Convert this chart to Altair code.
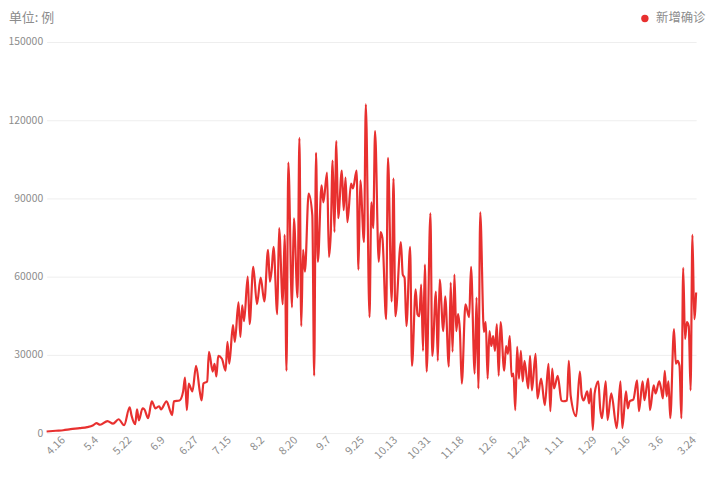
import json
import altair as alt
import pandas as pd

# ---- data ----
start_date = "2020-04-07"          # day 0 of the series
series_name = "新增确诊"
unit_title = "单位: 例"

day_offsets = [
    0, 5, 9, 13, 18, 22, 25, 27, 29, 33,
    36, 39, 42, 45, 46, 48, 49, 50, 52, 53,
    55, 57, 59, 61, 62, 65, 67, 68, 69, 72,
    74, 75, 76, 77, 79, 81, 83, 84, 85, 87,
    88, 90, 91, 92, 93, 95, 97, 98, 99, 101,
    102, 104, 105, 106, 107, 109, 110, 112, 114, 116,
    118, 120, 121, 122, 123, 125, 126, 128, 129, 130,
    131, 133, 134, 136, 137, 138, 139, 140, 142, 144,
    145, 146, 147, 149, 150, 152, 153, 154, 155, 156,
    157, 158, 160, 161, 162, 163, 165, 166, 168, 169,
    170, 172, 173, 175, 176, 177, 178, 180, 181, 182,
    184, 185, 187, 188, 189, 192, 193, 194, 195, 197,
    198, 200, 201, 202, 203, 204, 205, 206, 208, 209,
    211, 212, 213, 215, 216, 218, 219, 220, 221, 222,
    223, 224, 225, 227, 229, 230, 232, 233, 234, 235,
    237, 238, 239, 240, 241, 242, 243, 244, 245, 246,
    248, 249, 250, 251, 252, 253, 254, 255, 256, 257,
    258, 259, 261, 262, 263, 265, 266, 268, 270, 272,
    273, 274, 275, 277, 279, 280, 282, 283, 284, 287,
    289, 290, 291, 293, 294, 295, 296, 297, 299, 300,
    301, 303, 304, 306, 309, 311, 312, 314, 315, 316,
    318, 320, 321, 323, 324, 326, 327, 329, 330, 332,
    333, 334, 335, 336, 337, 338, 340, 341, 342, 343,
    344, 345, 346, 347, 348, 349, 350, 351, 352,
]

new_cases = [
    600, 900, 1100, 1500, 1900, 2300, 2900, 3800, 3200, 4600,
    3600, 5300, 3000, 9900, 6800, 3400, 9100, 4900, 9500, 9100,
    5700, 12200, 9500, 10300, 9100, 12200, 8400, 6900, 12200, 12500,
    16000, 21300, 8800, 19000, 16000, 25800, 16000, 12500, 19000, 19800,
    31200, 23600, 26600, 21700, 29600, 28500, 23900, 35000, 26600, 41400,
    35000, 50100, 36900, 49000, 42900, 60000, 41800, 63800, 49400, 59600,
    50500, 70300, 58100, 62700, 71400, 45600, 78600, 49400, 76000, 23900,
    103700, 48200, 82400, 52000, 113200, 41000, 70300, 61900, 91900, 83600,
    22000, 107500, 65700, 95000, 88500, 99900, 67600, 76700, 104500, 77100,
    112000, 82400, 100700, 85500, 98000, 80900, 95700, 93800, 100700, 62700,
    96900, 73300, 126100, 44500, 88500, 78600, 115800, 65700, 77100, 74800,
    43700, 105600, 50500, 97600, 44800, 73300, 60800, 59600, 41000, 71400,
    25800, 55100, 45600, 44800, 57000, 31500, 64600, 23600, 84300, 29600,
    54300, 27700, 58900, 39100, 52400, 25500, 57700, 31200, 60800, 39100,
    45600, 38800, 19000, 49400, 44500, 63800, 22800, 52000, 17100, 84700,
    38800, 42600, 20900, 39100, 33400, 37200, 31500, 41800, 22000, 42600,
    23900, 33400, 30400, 37200, 21700, 22800, 8800, 33100, 20900, 31500,
    19800, 27700, 17100, 29600, 16400, 30400, 13300, 20900, 10700, 26600,
    8400, 24700, 17100, 22000, 12500, 12200, 12500, 27700, 14500, 6500,
    23600, 14500, 12500, 16000, 11400, 17100, 1200, 15200, 19800, 9500,
    5700, 19800, 5000, 15200, 1900, 19800, 1900, 16000, 9500, 12200,
    12900, 20200, 8400, 19800, 12600, 20900, 8800, 18300, 15200, 19800,
    17100, 13300, 23900, 14100, 19800, 5700, 39900, 26600, 27700, 25800,
    5700, 63400, 36100, 42600, 41000, 16400, 76000, 43700, 53900,
]

tick_days = [9, 27, 45, 63, 81, 99, 117, 135, 153, 171,
             189, 207, 225, 243, 261, 279, 297, 315, 333, 351]
tick_labels = ["4.16", "5.4", "5.22", "6.9", "6.27", "7.15", "8.2", "8.20",
               "9.7", "9.25", "10.13", "10.31", "11.18", "12.6", "12.24",
               "1.11", "1.29", "2.16", "3.6", "3.24"]
y_ticks = [0, 30000, 60000, 90000, 120000, 150000]

# ---- styling ----
line_color = "#e8302f"
text_gray = "#8c8c8c"
grid_gray = "#eeeeee"
font = "Noto Sans CJK SC"

df = pd.DataFrame({
    "day": day_offsets,
    "cases": new_cases,
    "series": [series_name] * len(day_offsets),
})
df["date"] = (pd.Timestamp(start_date) + pd.to_timedelta(df["day"], unit="D")).dt.strftime("%Y-%m-%d")

label_expr = f"{json.dumps(tick_labels)}[indexof({json.dumps(tick_days)}, datum.value)]"

line = alt.Chart(df).mark_line(
    interpolate="monotone", strokeWidth=2.2
).encode(
    x=alt.X("day:Q",
            scale=alt.Scale(domain=[0, 352], nice=False, zero=False),
            axis=alt.Axis(values=tick_days, labelExpr=label_expr, labelAngle=-45,
                          labelAlign="right", labelBaseline="middle", labelPadding=5,
                          grid=False, domain=False, ticks=False, labelFontSize=11,
                          labelColor=text_gray, labelFont=font, title=None)),
    y=alt.Y("cases:Q",
            scale=alt.Scale(domain=[0, 150000], nice=False),
            axis=alt.Axis(values=y_ticks, format="d", grid=True, gridColor=grid_gray,
                          domain=False, ticks=False, labelPadding=4, labelFontSize=10.5,
                          labelColor=text_gray, labelFont=font, title=None)),
    color=alt.Color("series:N",
                    scale=alt.Scale(domain=[series_name], range=[line_color]),
                    legend=alt.Legend(orient="none", legendX=598, legendY=-30, title=None,
                                      symbolType="circle", symbolSize=55,
                                      symbolFillColor=line_color, symbolStrokeColor=line_color,
                                      symbolStrokeWidth=0, labelFontSize=12.5,
                                      labelColor=text_gray, labelFont=font, labelOffset=5)),
)

title_df = pd.DataFrame({"label": [unit_title]})
title = alt.Chart(title_df).mark_text(
    align="left", baseline="middle", fontSize=13, color=text_gray, font=font
).encode(
    text="label:N",
    x=alt.value(-38),
    y=alt.value(-24),
)

chart = alt.layer(line, title).properties(
    width=656,
    height=395,
    padding={"left": 39, "top": 32, "right": 12, "bottom": 40},
    autosize=alt.AutoSizeParams(type="none"),
).configure_view(stroke=None)

chart.save("out.html", embed_options={"renderer": "svg", "actions": False})
